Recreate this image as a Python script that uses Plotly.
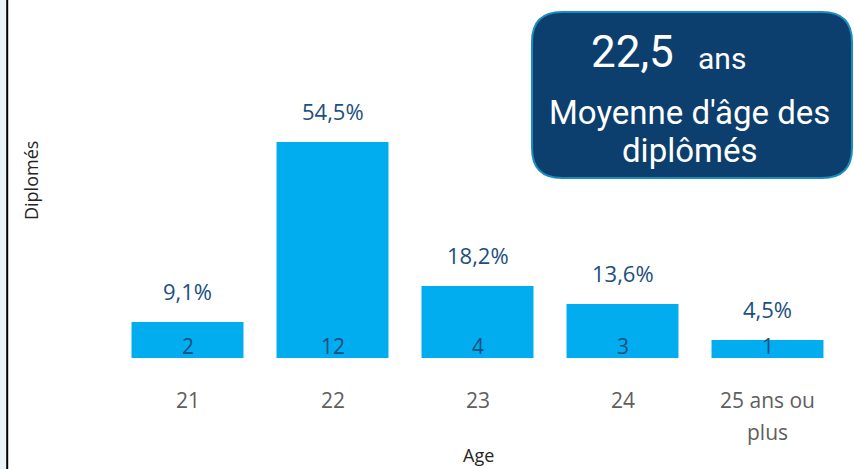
import plotly.graph_objects as go

categories = ["21", "22", "23", "24", "25 ans ou plus"]
tick_lines = [["21"], ["22"], ["23"], ["24"], ["25 ans ou", "plus"]]
counts = [2, 12, 4, 3, 1]
pct_labels = ["9,1%", "54,5%", "18,2%", "13,6%", "4,5%"]
kpi_value = "22,5"
kpi_unit = "ans"
kpi_caption = ["Moyenne d'âge des", "diplômés"]
x_title = "Age"
y_title = "Diplomés"

W, H = 854, 469
ML, MR, MT, MB = 115, 14, 16, 111
YMAX = (H - MT - MB) / 18.0

BAR = "#01ADEE"
DARK = "#1B4F7E"
TICK = "#605E5C"
FONT = "Open Sans, Noto Sans, sans-serif"
KFONT = "Roboto, sans-serif"

fig = go.Figure()
fig.add_trace(go.Bar(
    x=list(range(len(categories))), y=counts, marker=dict(color=BAR, line=dict(width=0)),
    hoverinfo="skip", showlegend=False,
))

ann = []
for i, (v, p, lines) in enumerate(zip(counts, pct_labels, tick_lines)):
    ann.append(dict(x=i, y=v, xref="x", yref="y", text=p, showarrow=False,
                    xanchor="center", yanchor="middle",
                    yshift=31, font=dict(family=FONT, size=22, color=DARK)))
    ann.append(dict(x=i, y=0, xref="x", yref="y", text=str(v), showarrow=False,
                    xanchor="center", yanchor="middle",
                    yshift=12, font=dict(family=FONT, size=21, color=DARK)))
    for k, t in enumerate(lines):
        ann.append(dict(x=i, y=0, xref="x", yref="y", text=t, showarrow=False,
                        xanchor="center", yanchor="middle",
                        yshift=-(42 + 32 * k), font=dict(family=FONT, size=21, color=TICK)))

pw, ph = W - ML - MR, H - MT - MB
def px(x):
    return (x - ML) / pw
def py(y):
    return (H - MB - y) / ph

x0, x1, y0, y1, r = 532, 852, 12, 178, 30
path = (f"M {px(x0+r)},{py(y0)} L {px(x1-r)},{py(y0)} Q {px(x1)},{py(y0)} {px(x1)},{py(y0+r)} "
        f"L {px(x1)},{py(y1-r)} Q {px(x1)},{py(y1)} {px(x1-r)},{py(y1)} "
        f"L {px(x0+r)},{py(y1)} Q {px(x0)},{py(y1)} {px(x0)},{py(y1-r)} "
        f"L {px(x0)},{py(y0+r)} Q {px(x0)},{py(y0)} {px(x0+r)},{py(y0)} Z")

shapes = [
    dict(type="path", xref="paper", yref="paper", path=path,
         fillcolor="#0C3F6D", line=dict(color="#1A8CC0", width=2), layer="above"),
    dict(type="rect", xref="paper", yref="paper", x0=px(0), x1=px(6.5), y0=py(H), y1=py(0),
         fillcolor="#EAF3F8", line=dict(width=0), layer="below"),
    dict(type="line", xref="paper", yref="paper", x0=px(7.2), x1=px(7.2), y0=py(H), y1=py(0),
         line=dict(color="#000000", width=2)),
]

def pann(x, y, text, size, color, family, angle=0):
    return dict(xref="paper", yref="paper", x=px(x), y=py(y), text=text, textangle=angle,
                showarrow=False, xanchor="center", yanchor="middle",
                font=dict(family=family, size=size, color=color))

ann.append(pann(632, 52, kpi_value, 44, "white", KFONT))
ann.append(pann(722, 58, kpi_unit, 30, "white", KFONT))
ann.append(pann(689, 112, kpi_caption[0], 33, "white", KFONT))
ann.append(pann(689, 150, kpi_caption[1], 33, "white", KFONT))
ann.append(pann(479, 455, x_title, 18, "#252423", FONT))
ann.append(pann(31, 181, y_title, 18, "#252423", FONT, -90))

fig.update_layout(
    width=W, height=H, margin=dict(l=ML, r=MR, t=MT, b=MB),
    paper_bgcolor="white", plot_bgcolor="white",
    bargap=0.228, annotations=ann, shapes=shapes,
    xaxis=dict(range=[-0.5, 4.5], showgrid=False, showline=False, zeroline=False,
               showticklabels=False, ticks=""),
    yaxis=dict(range=[0, YMAX], visible=False),
)

fig.write_html("out.html", config={"displayModeBar": False},
               post_script="document.body.style.margin='0';")
